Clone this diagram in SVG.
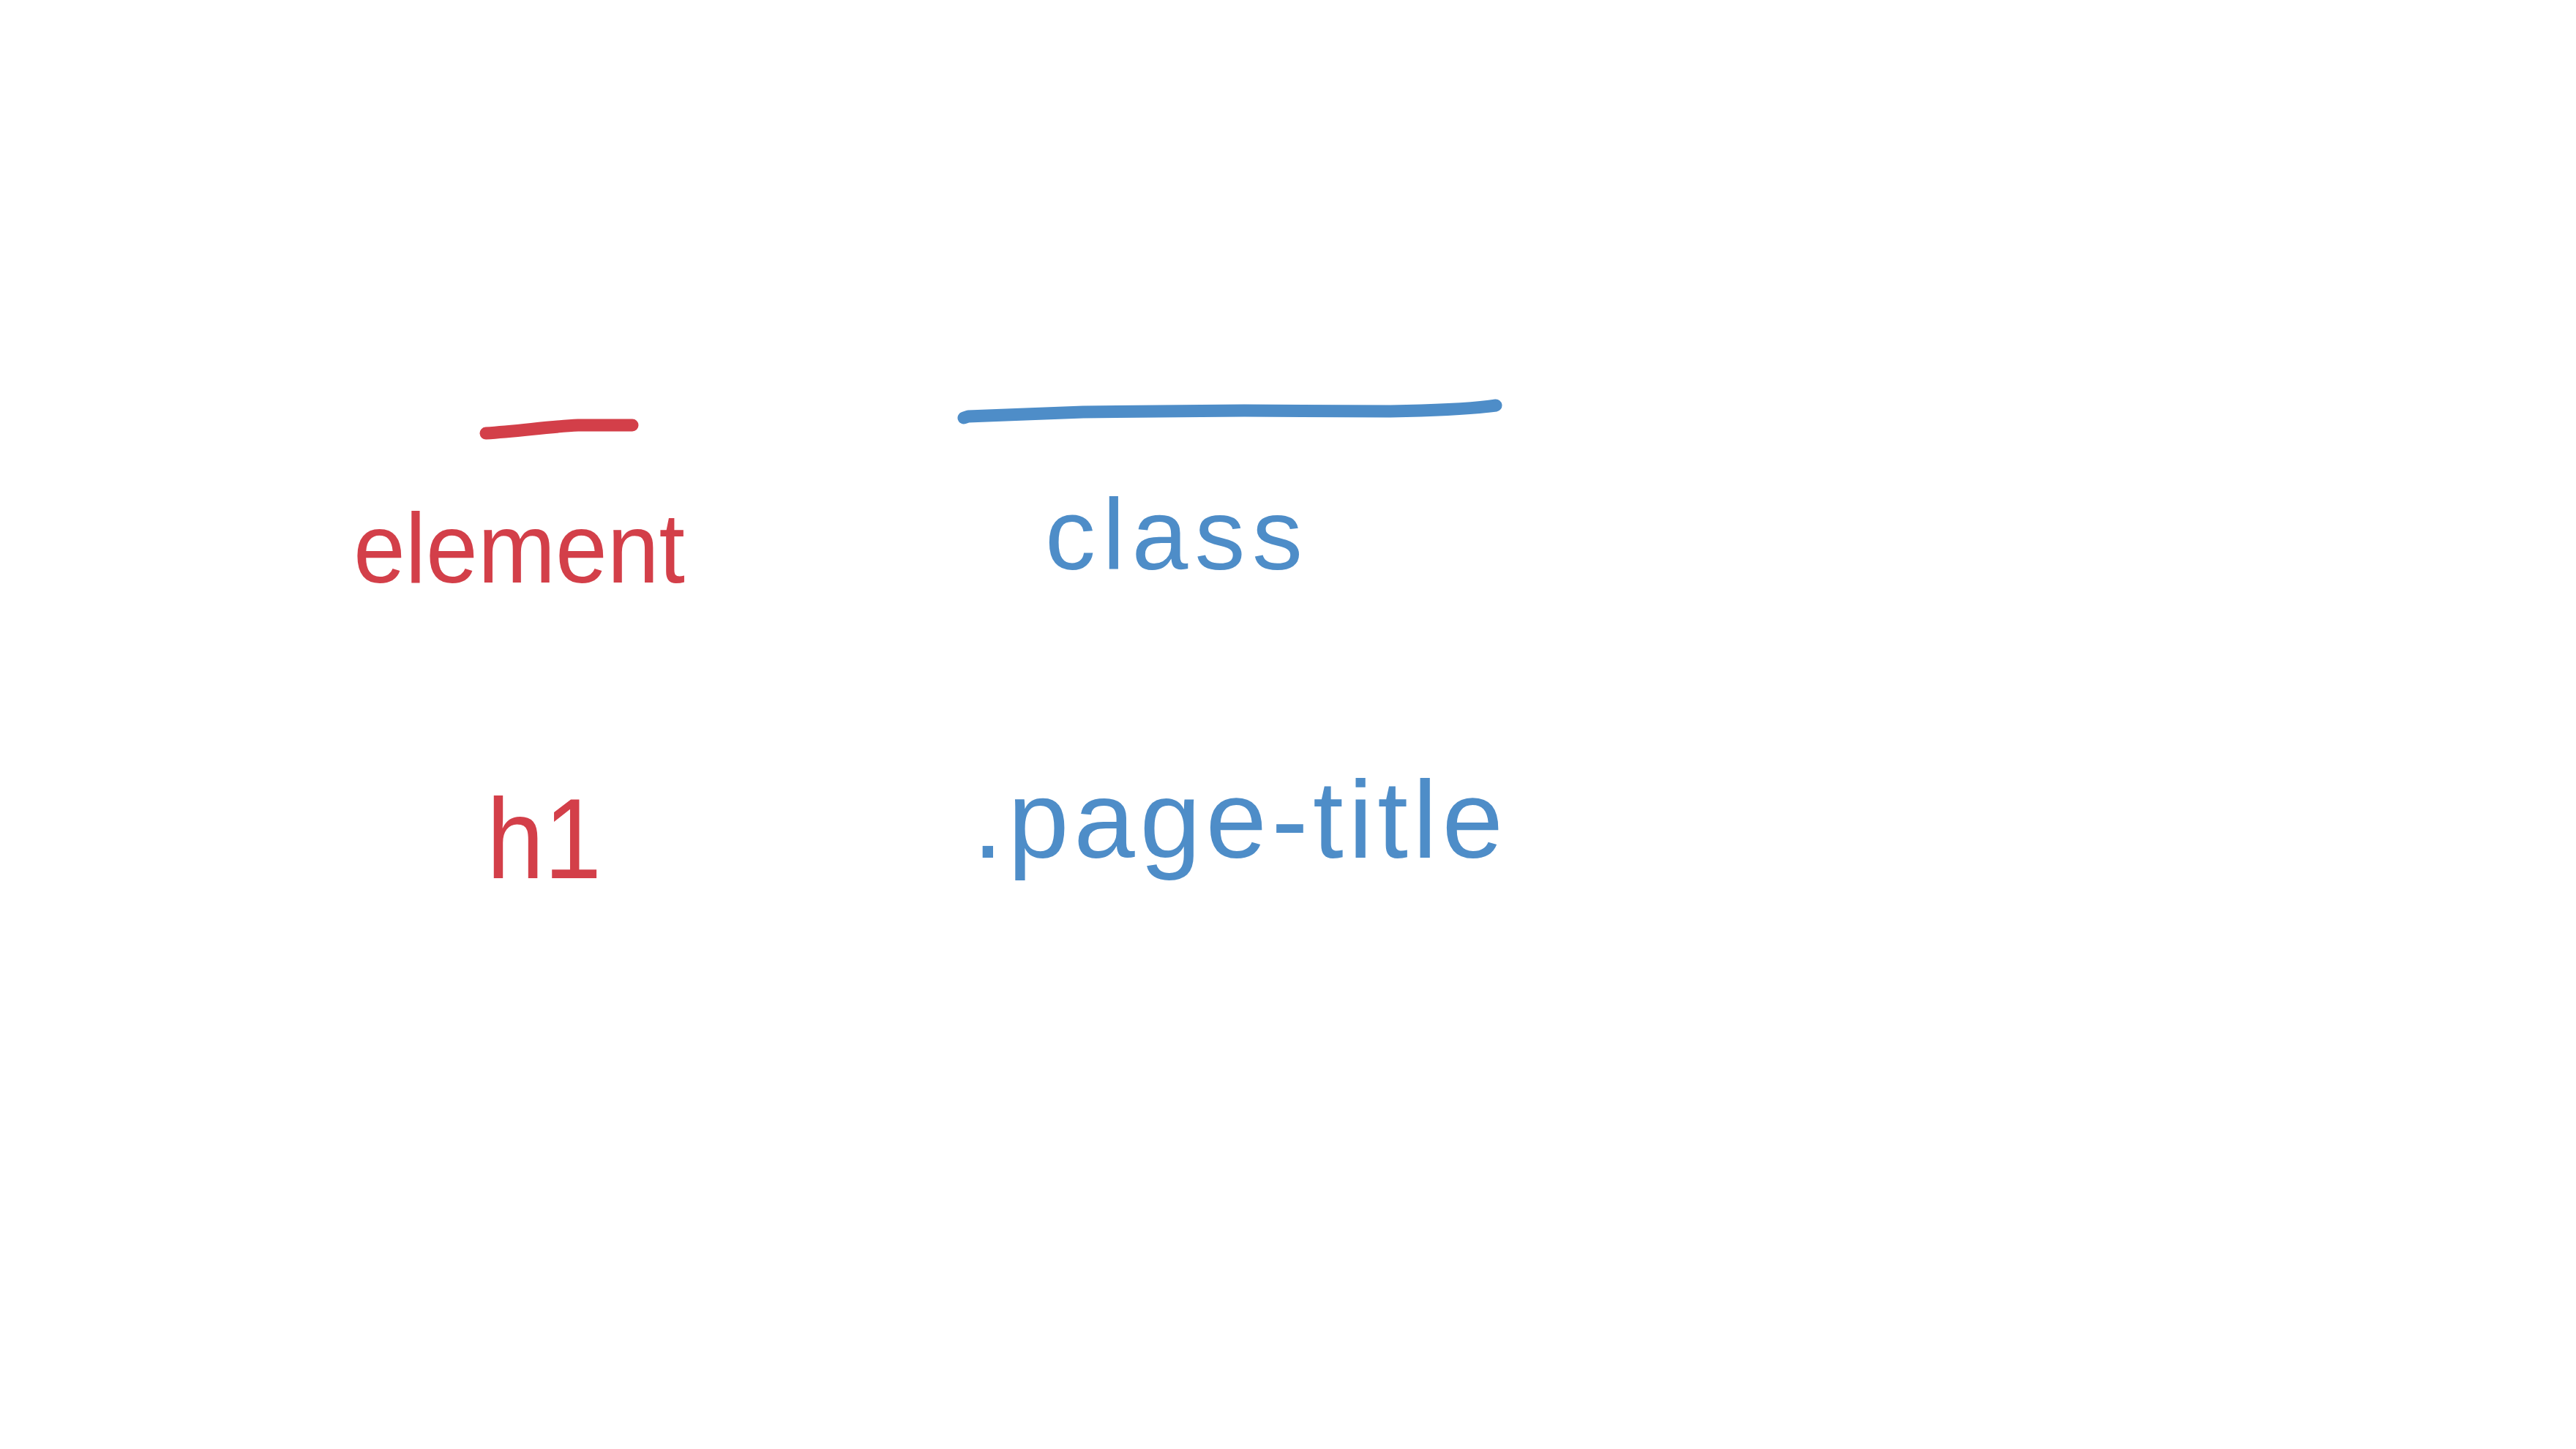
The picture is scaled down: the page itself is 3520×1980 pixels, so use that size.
<svg xmlns="http://www.w3.org/2000/svg" width="3520" height="1980" viewBox="0 0 3520 1980">
<style>
.t{font-family:"Liberation Sans","DejaVu Sans",sans-serif;font-size:140px;}
.red{fill:#D33F49;}
.blue{fill:#4E8DC8;}
.ln{fill:none;stroke-width:17;stroke-linecap:round;stroke-linejoin:round;}
</style>
<rect width="3520" height="1980" fill="#ffffff"/>
<g id="underline-element">
<path class="ln" stroke="#D33F49" d="M 664 592 C 710 589 750 583 790 581 L 864 581"/>
</g>
<g id="underline-class">
<path class="ln" stroke="#4E8DC8" d="M 1317 571 L 1323 569 C 1380 567 1420 565 1480 563 L 1700 561 L 1900 562 C 1960 561 2010 559 2044 554"/>
</g>
<g id="element">
<text class="t red" x="483" y="796" style="font-size:136px" textLength="453" lengthAdjust="spacingAndGlyphs">element</text>
</g>
<g id="class">
<text class="t blue" x="1428" y="778" style="font-size:138px" textLength="352" lengthAdjust="spacing">class</text>
</g>
<g id="h1">
<text class="t red" x="665" y="1200" style="font-size:155px" textLength="157" lengthAdjust="spacingAndGlyphs">h1</text>
</g>
<g id="page-title">
<text class="t blue" x="1329" y="1172" style="font-size:150px" textLength="725" lengthAdjust="spacing">.page-title</text>
</g>
</svg>
